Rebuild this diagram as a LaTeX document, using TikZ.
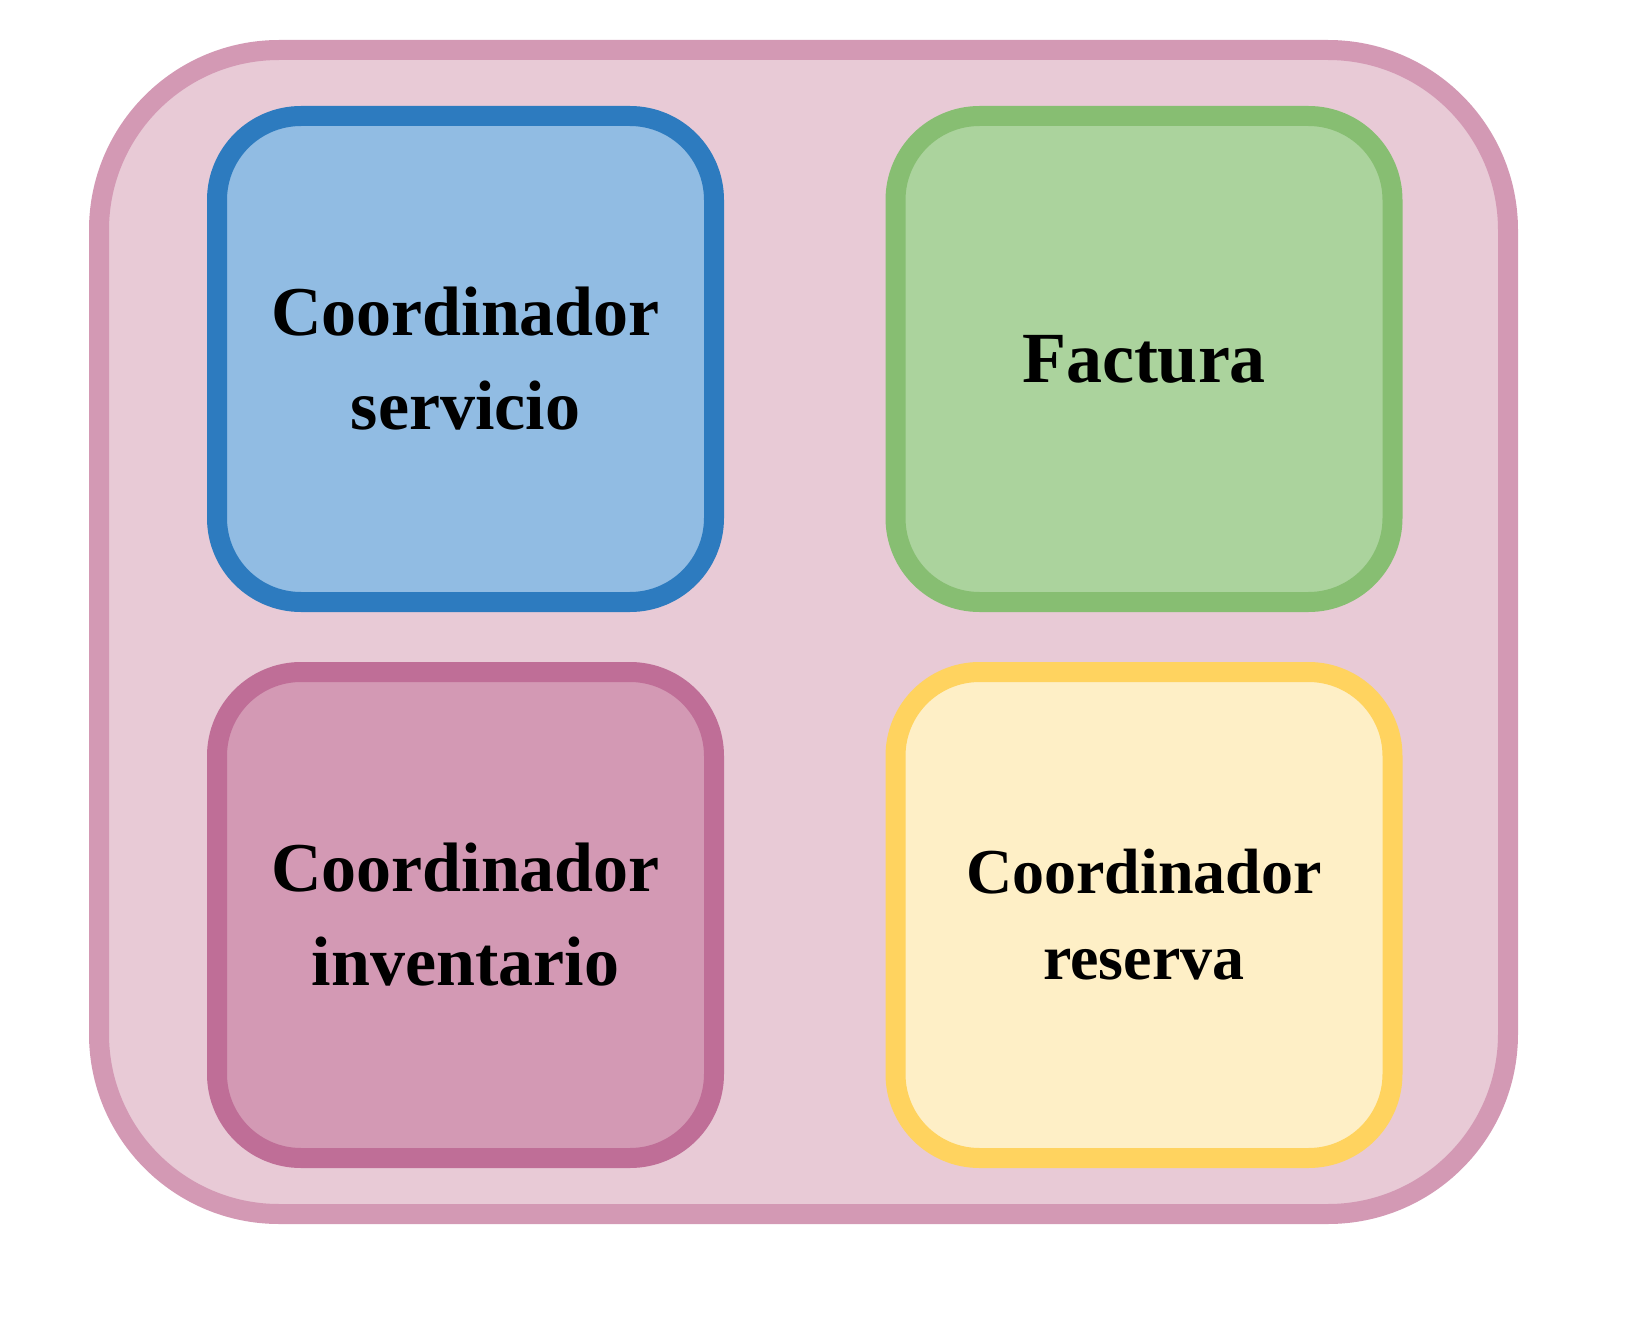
\documentclass[tikz,border=0pt]{standalone}
\usepackage{fontspec}
\setmainfont{Liberation Serif}
\usepackage{tikz}
\usetikzlibrary{positioning}
\definecolor{outerfill}{HTML}{E8CAD6}
\definecolor{outerline}{HTML}{D399B4}
\definecolor{bluefill}{HTML}{91BCE3}
\definecolor{blueline}{HTML}{2D7BBF}
\definecolor{greenfill}{HTML}{ABD39D}
\definecolor{greenline}{HTML}{87BE72}
\definecolor{pinkfill}{HTML}{D399B4}
\definecolor{pinkline}{HTML}{BF6E97}
\definecolor{yellowfill}{HTML}{FEEFC6}
\definecolor{yellowline}{HTML}{FFD35F}
\tikzstyle{container} = [rectangle, rounded corners=90pt, minimum width=704.5pt, minimum height=582pt, line width=10pt, draw=outerline, fill=outerfill]
\tikzstyle{module} = [rectangle, rounded corners=42pt, minimum width=248.5pt, minimum height=243pt, line width=10pt, align=center, text centered, font=\bfseries]

\begin{document}
\begin{tikzpicture}[x=0.5pt, y=-0.5pt]
				\useasboundingbox (0,0) rectangle (1646,1322);
				\node (frame) [container] at (803.5,632) {};
				
				\node (serv) [module, draw=blueline, fill=bluefill, font=\fontsize{35}{47}\bfseries] at (465.5,359) {Coordinador\\servicio};
				\node (fact) [module, draw=greenline, fill=greenfill, font=\fontsize{36}{47}\bfseries] at (1144,359) {Factura};
				\node (inv) [module, draw=pinkline, fill=pinkfill, font=\fontsize{35}{47}\bfseries] at (465.5,915) {Coordinador\\inventario};
				\node (res) [module, draw=yellowline, fill=yellowfill, font=\fontsize{32}{43}\bfseries] at (1144,915) {Coordinador\\reserva};
\end{tikzpicture}
\end{document}
